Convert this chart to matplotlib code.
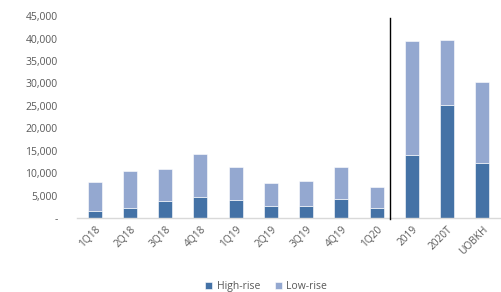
import matplotlib
matplotlib.use("Agg")
import matplotlib.pyplot as plt
from matplotlib.ticker import FuncFormatter

categories = ["1Q18", "2Q18", "3Q18", "4Q18", "1Q19", "2Q19", "3Q19", "4Q19", "1Q20", "2019", "2020T", "UOBKH"]
high_rise = [1600, 2400, 3800, 4700, 4100, 2700, 2700, 4400, 2400, 14000, 25200, 12300]
totals = [8100, 10500, 10900, 14200, 11500, 7800, 8400, 11500, 7000, 39400, 39600, 30400]
low_rise = [t - h for t, h in zip(totals, high_rise)]

dark = "#4472A6"
light = "#94A8D0"
text_col = "#595959"

plt.rcParams['font.family'] = ['Open Sans', 'DejaVu Sans']

fig = plt.figure(figsize=(5.01, 2.92), dpi=100)
ax = fig.add_axes([0.1537, 0.2524, 0.8443, 0.6926])

x = list(range(len(categories)))
w = 0.4
ax.bar(x, high_rise, width=w, color=dark, edgecolor="white", linewidth=0.4, label="High-rise", zorder=2)
ax.bar(x, low_rise, width=w, bottom=high_rise, color=light, edgecolor="white", linewidth=0.4, label="Low-rise", zorder=2)

ax.set_xlim(-0.5, len(categories) - 0.5)
ax.set_ylim(0, 45000)
ax.set_yticks(range(0, 45001, 5000))
ax.yaxis.set_major_formatter(FuncFormatter(lambda v, p: "-" if v == 0 else f"{int(v):,}"))

for s in ["top", "right", "left"]:
    ax.spines[s].set_visible(False)
ax.spines["bottom"].set_color("#D9D9D9")
ax.spines["bottom"].set_linewidth(1.0)

ax.tick_params(axis="y", length=0, labelsize=7.5, colors=text_col, pad=14)
ax.tick_params(axis="x", length=0, labelsize=7.3, colors=text_col, pad=4)
ax.set_xticks(x)
ax.set_xticklabels(categories, rotation=45, ha="right", va="top", rotation_mode="anchor")

# separator between quarterly and annual
ax.axvline(8.37, ymin=-0.005, ymax=0.99, color="black", linewidth=1.0, clip_on=False, zorder=3)

ax.legend(loc="lower center", bbox_to_anchor=(0.447, -0.41), ncol=2, frameon=False,
          fontsize=7.5, labelcolor=text_col, handlelength=0.7, handleheight=0.7,
          handletextpad=0.4, columnspacing=1.4)

fig.savefig("out.png", dpi=100)
